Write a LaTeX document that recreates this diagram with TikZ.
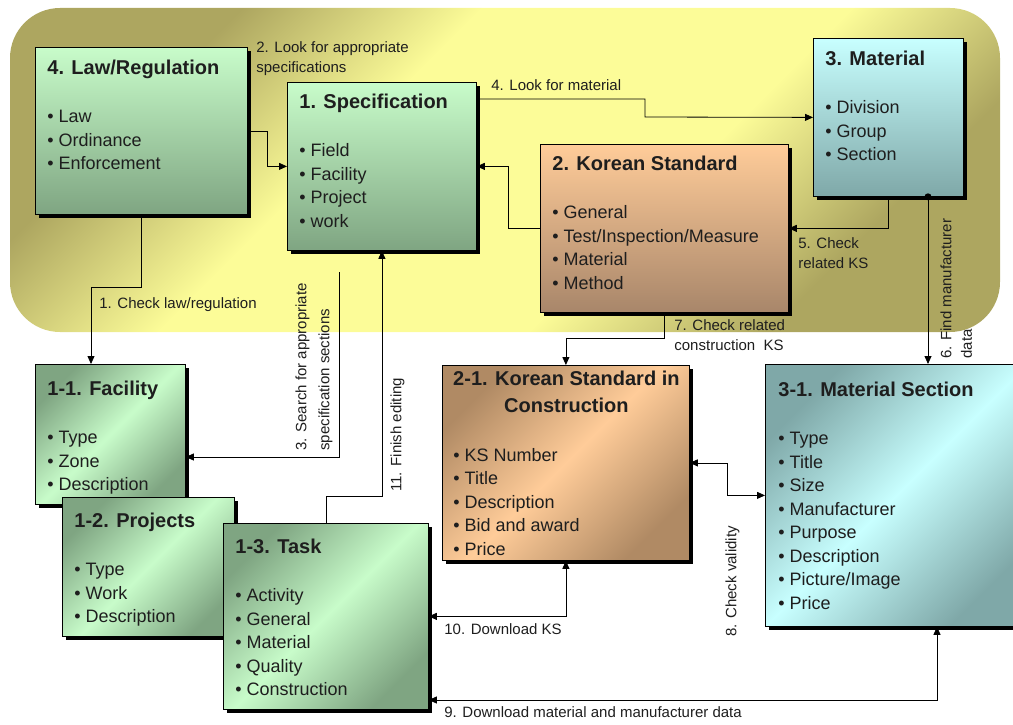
\documentclass[tikz,border=0pt]{standalone}
\usepackage{fontspec}
\setmainfont{Liberation Sans}
\usetikzlibrary{arrows.meta,shadows}
\definecolor{ink}{HTML}{1E1E1E}
\definecolor{yel}{HTML}{FCFC98}
\definecolor{olv}{HTML}{ADA660}
\definecolor{gtop}{HTML}{C8FCCA}
\definecolor{gbot}{HTML}{7FA582}
\definecolor{ctop}{HTML}{C8FFFF}
\definecolor{cbot}{HTML}{7FA8A8}
\definecolor{otop}{HTML}{FFCC99}
\definecolor{obot}{HTML}{A8866A}
\definecolor{odark}{HTML}{B08A64}
\pgfdeclareverticalshading{yband}{100bp}{color(0bp)=(olv); color(27bp)=(olv); color(40bp)=(yel); color(60bp)=(yel); color(73bp)=(olv); color(100bp)=(olv)}
\newcommand{\boxtitle}[1]{{\fontsize{20}{24}\selectfont\bfseries #1}}

\begin{document}
\begin{tikzpicture}[x=1pt, y=-1pt, line width=0.8pt, >={Triangle[length=8pt,width=7pt]},
  every node/.style={text=ink},
  box/.style={draw=black, anchor=north west, inner sep=0pt,
    drop shadow={shadow xshift=4pt, shadow yshift=-4pt, fill=black, opacity=1}},
  vgreen/.style={box, top color=gtop, bottom color=gbot},
  vcyan/.style={box, top color=ctop, bottom color=cbot},
  vorange/.style={box, top color=otop, bottom color=obot},
  dgreen/.style={box, top color=gbot, bottom color=gbot, middle color=gtop, shading angle=45},
  dcyan/.style={box, top color=cbot, bottom color=cbot, middle color=ctop, shading angle=45},
  dorange/.style={box, top color=odark, bottom color=odark, middle color=otop, shading angle=45},
  items/.style={anchor=north west, align=left, inner sep=0pt, font=\fontsize{18}{23.5}\selectfont},
  lbl/.style={anchor=north west, align=left, inner sep=0pt, font=\fontsize{15}{20.5}\selectfont}]
  \useasboundingbox (0,0) rectangle (1013,725);
  \shade[rounded corners=50pt, shading=yband, shading angle=45] (10,8) rectangle (1000,332);

  \node[vgreen, minimum width=212, minimum height=167] (law) at (35,47) {};
  \node[items] (lawtxt) at ([shift={(12,13)}]law.north west) {\boxtitle{4. Law/Regulation}\\[24.5pt] • Law\\ • Ordinance\\ • Enforcement};
  \node[vgreen, minimum width=189, minimum height=168] (spec) at (287,82) {};
  \node[items] (spectxt) at ([shift={(12,12)}]spec.north west) {\boxtitle{1. Specification}\\[24.5pt] • Field\\ • Facility\\ • Project\\ • work};
  \node[vcyan, minimum width=150, minimum height=158] (mat) at (813,38) {};
  \node[items] (mattxt) at ([shift={(12,13)}]mat.north west) {\boxtitle{3. Material}\\[24.5pt] • Division\\ • Group\\ • Section};
  \node[vorange, minimum width=248, minimum height=168] (ks) at (540,144) {};
  \node[items] (kstxt) at ([shift={(12,12)}]ks.north west) {\boxtitle{2. Korean Standard}\\[24.5pt] • General\\ • Test/Inspection/Measure\\ • Material\\ • Method};

  \node[dgreen, minimum width=150, minimum height=140] (fac) at (35,364) {};
  \node[items] (factxt) at ([shift={(12,17)}]fac.north west) {\boxtitle{1-1. Facility}\\[24.5pt] • Type\\ • Zone\\ • Description};
  \node[dgreen, minimum width=172, minimum height=139] (proj) at (62,497) {};
  \node[items] (projtxt) at ([shift={(12,16)}]proj.north west) {\boxtitle{1-2. Projects}\\[24.5pt] • Type\\ • Work\\ • Description};
  \node[dgreen, minimum width=205, minimum height=186] (task) at (223,523) {};
  \node[items] (tasktxt) at ([shift={(12,16)}]task.north west) {\boxtitle{1-3. Task}\\[24.5pt] • Activity\\ • General\\ • Material\\ • Quality\\ • Construction};
  \node[dorange, minimum width=247, minimum height=195] (ksc) at (442,365) {};
  \node[items] (ksctxt) at ([shift={(11,6)}]ksc.north west) {\makebox[226pt][c]{\boxtitle{2-1. Korean Standard in}}\\[3.5pt]
    \makebox[226pt][c]{\boxtitle{Construction}}\\[25pt] • KS Number\\ • Title\\ • Description\\ • Bid and award\\ • Price};
  \node[dcyan, minimum width=262, minimum height=262] (msec) at (765,364) {};
  \node[items] (msectxt) at ([shift={(13,18)}]msec.north west) {\boxtitle{3-1. Material Section}\\[24.5pt] • Type\\ • Title\\ • Size\\ • Manufacturer\\ • Purpose\\ • Description\\ • Picture/Image\\ • Price};

  \draw[->] (law.south) -- ++(0,73) -| ([xshift=56pt]fac.north west);
  \draw[->] (law.east) -- ++(20,0) |- (spec.west);
  \coordinate (s3) at (339,272);
  \draw[->] (s3) |- (fac.east |- 0,457);
  \draw[->] (spec.east |- 0,99) -| (645,117) -- (mat.west);
  \draw[->] (ks.west) -- ++(-32,0) |- (spec.east);
  \draw[->] (mat.south) |- (ks.east);
  \coordinate (m6) at (mat.south -| 928,0);
  \fill (m6) circle (3.5pt);
  \draw[->] (m6) -- (msec.north -| m6);
  \draw[->] (ks.south) -- ++(0,26) -| (ksc.north);
  \draw[<->] (ksc.east) -- ++(38,0) |- (msec.west);
  \draw[<->] (task.east |- 0,700) -| (msec.south -| 937,0);
  \draw[<->] (task.east) -| (ksc.south);
  \draw[->] (task.north) -- ++(0,-27) -| (spec.south);

  \node[lbl] (l1) at (99,297) {1. Check law/regulation};
  \node[lbl] (l2) at (256,41) {2. Look for appropriate\\specifications};
  \node[lbl, rotate=90, font=\fontsize{15}{23}\selectfont] (l3) at (295,451) {3. Search for appropriate\\specification sections};
  \node[lbl] (l4) at (491,79) {4. Look for material};
  \node[lbl] (l5) at (798,237) {5. Check\\related KS};
  \node[lbl, rotate=90] (l6) at (940,359) {6. Find manufacturer\\data};
  \node[lbl] (l7) at (674,319) {7. Check related\\construction\ \ KS};
  \node[lbl, rotate=90] (l8) at (725,637) {8. Check validity};
  \node[lbl] (l9) at (444,706) {9. Download material and manufacturer data};
  \node[lbl] (l10) at (444,623) {10. Download KS};
  \node[lbl, rotate=90] (l11) at (390,492) {11. Finish editing};
\end{tikzpicture}
\end{document}
